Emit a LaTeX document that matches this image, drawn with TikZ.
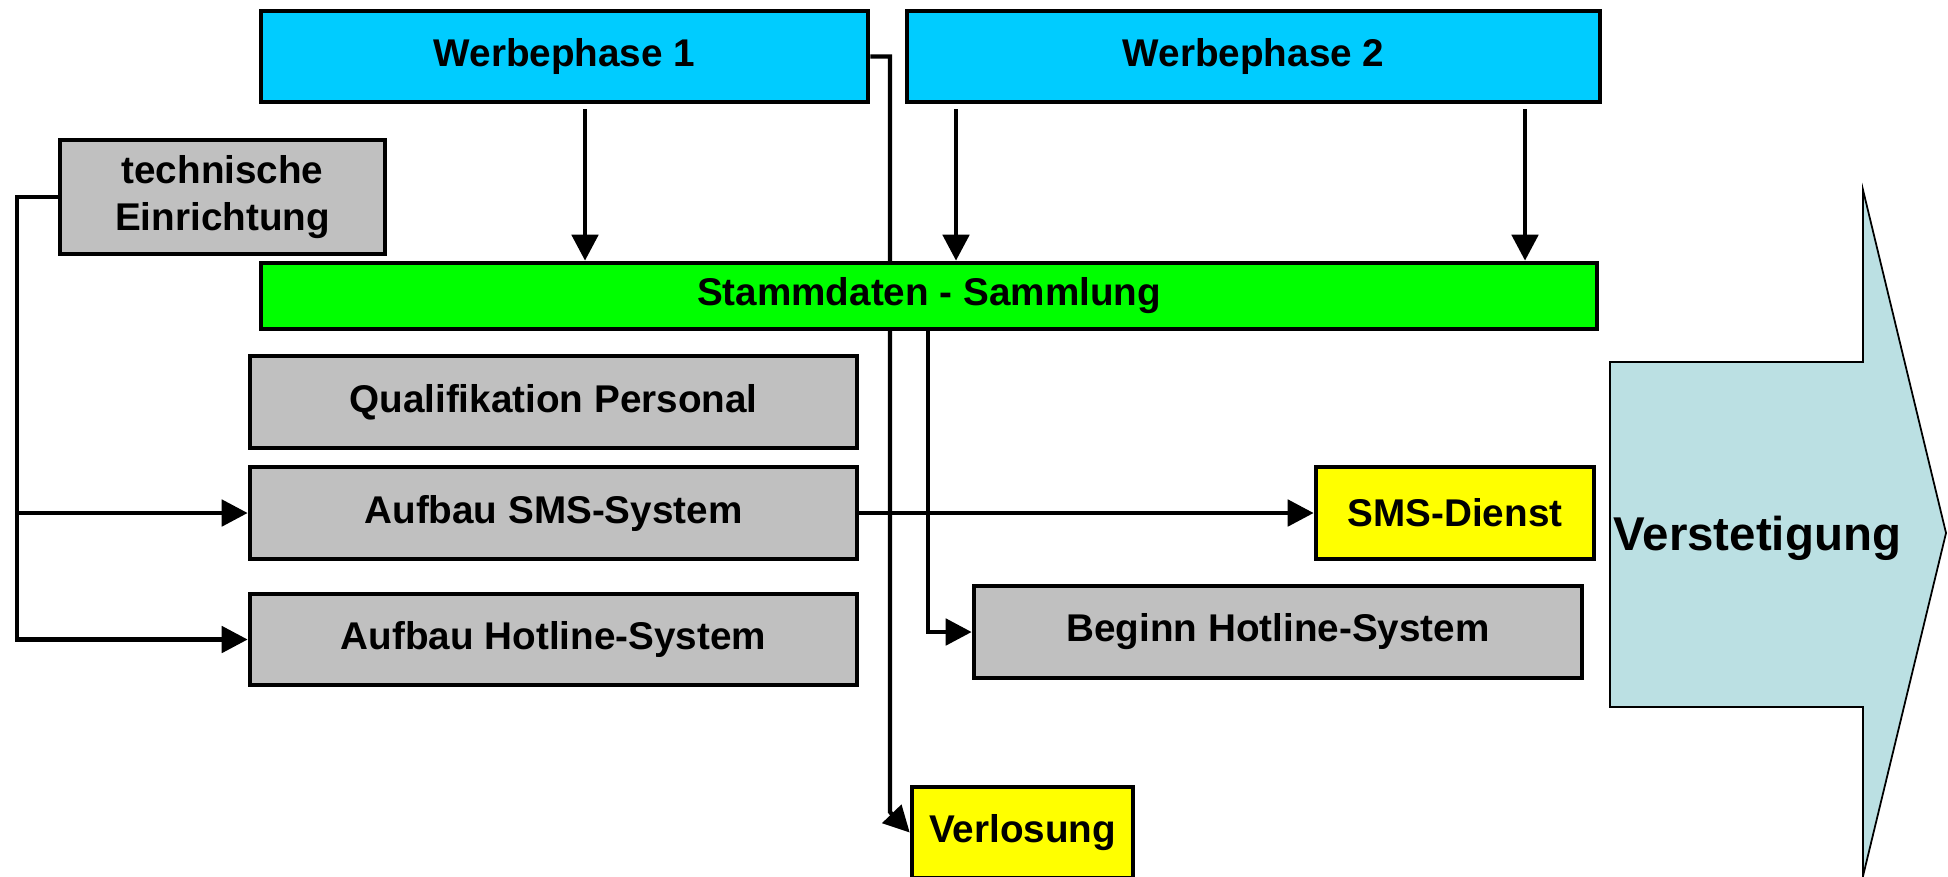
\documentclass[tikz,border=0pt]{standalone}
\usepackage{fontspec}
\setmainfont{Liberation Sans}
\usetikzlibrary{arrows.meta,backgrounds}
\definecolor{phase}{HTML}{00CCFF}
\definecolor{stamm}{HTML}{00FF00}
\definecolor{task}{HTML}{C0C0C0}
\definecolor{result}{HTML}{FFFF00}
\definecolor{verst}{HTML}{BBE0E3}

\begin{document}
\begin{tikzpicture}[x=0.1mm, y=-0.1mm,
  box/.style={draw, line width=1.3pt, font=\bfseries\fontsize{11}{13.6}\selectfont, align=center, inner sep=0pt},
  arr/.style={line width=1.4pt, -{Triangle[length=2.6mm,width=2.6mm]}}]
\useasboundingbox (0,0) rectangle (1948,876);

% Werbephasen and Stammdaten
\node[box, fill=phase, minimum width=60.7mm, minimum height=9.1mm] (w1) at (564.5,56.5) {Werbephase 1};
\node[box, fill=phase, minimum width=69.3mm, minimum height=9.1mm] (w2) at (1253.5,56.5) {Werbephase 2};
\node[box, fill=task, minimum width=32.5mm, minimum height=11.4mm] (tech) at (222.5,197) {technische\\Einrichtung};
\node[box, fill=stamm, minimum width=133.6mm, minimum height=6.6mm] (stamm) at (929,296) {Stammdaten - Sammlung};

% Aufbau
\node[box, fill=task, minimum width=60.7mm, minimum height=9.2mm] (qual) at (553.5,402) {Qualifikation Personal};
\node[box, fill=task, minimum width=60.7mm, minimum height=9.2mm] (asms) at (553.5,513) {Aufbau SMS-System};
\node[box, fill=task, minimum width=60.7mm, minimum height=9.1mm] (ahot) at (553.5,639.5) {Aufbau Hotline-System};

% Ergebnisse
\node[box, fill=result, minimum width=27.8mm, minimum height=9.2mm] (smsd) at (1455,513) {SMS-Dienst};
\node[box, fill=task, minimum width=60.8mm, minimum height=9.2mm] (bhot) at (1278,632) {Beginn Hotline-System};
\node[box, fill=result, minimum width=22.1mm, minimum height=9.1mm] (verl) at (1022.5,832.5) {Verlosung};

% Verstetigung arrow
\draw[fill=verst, line width=0.5pt] (1610,362) -- (1863,362) -- (1863,190) -- (1946,533)
  -- (1863,876) -- (1863,707) -- (1610,707) -- cycle;
\node[anchor=west, inner sep=0pt, font=\bfseries\fontsize{13.5}{16}\selectfont] (vst) at (1613,538) {Verstetigung};

% connectors
\begin{scope}[on background layer]
\draw[arr, shorten <=0.5mm] (585,0 |- w1.south) -- (585,0 |- stamm.north);
\draw[arr, shorten <=0.5mm] (956,0 |- w2.south) -- (956,0 |- stamm.north);
\draw[arr, shorten <=0.5mm] (1525,0 |- w2.south) -- (1525,0 |- stamm.north);
\draw[arr, line width=1.2pt] (w1.east) -- (890,0 |- w1.east) -- (890,812) -- (verl.west);
\draw[arr] (928,0 |- stamm.south) |- (bhot.west);
\draw[arr] (asms.east) -- (smsd.west);
\draw[arr] (tech.west) -| (17,0 |- ahot.west) -- (ahot.west);
\draw[arr] (17,0 |- asms.west) -- (asms.west);
\end{scope}
\end{tikzpicture}
\end{document}
